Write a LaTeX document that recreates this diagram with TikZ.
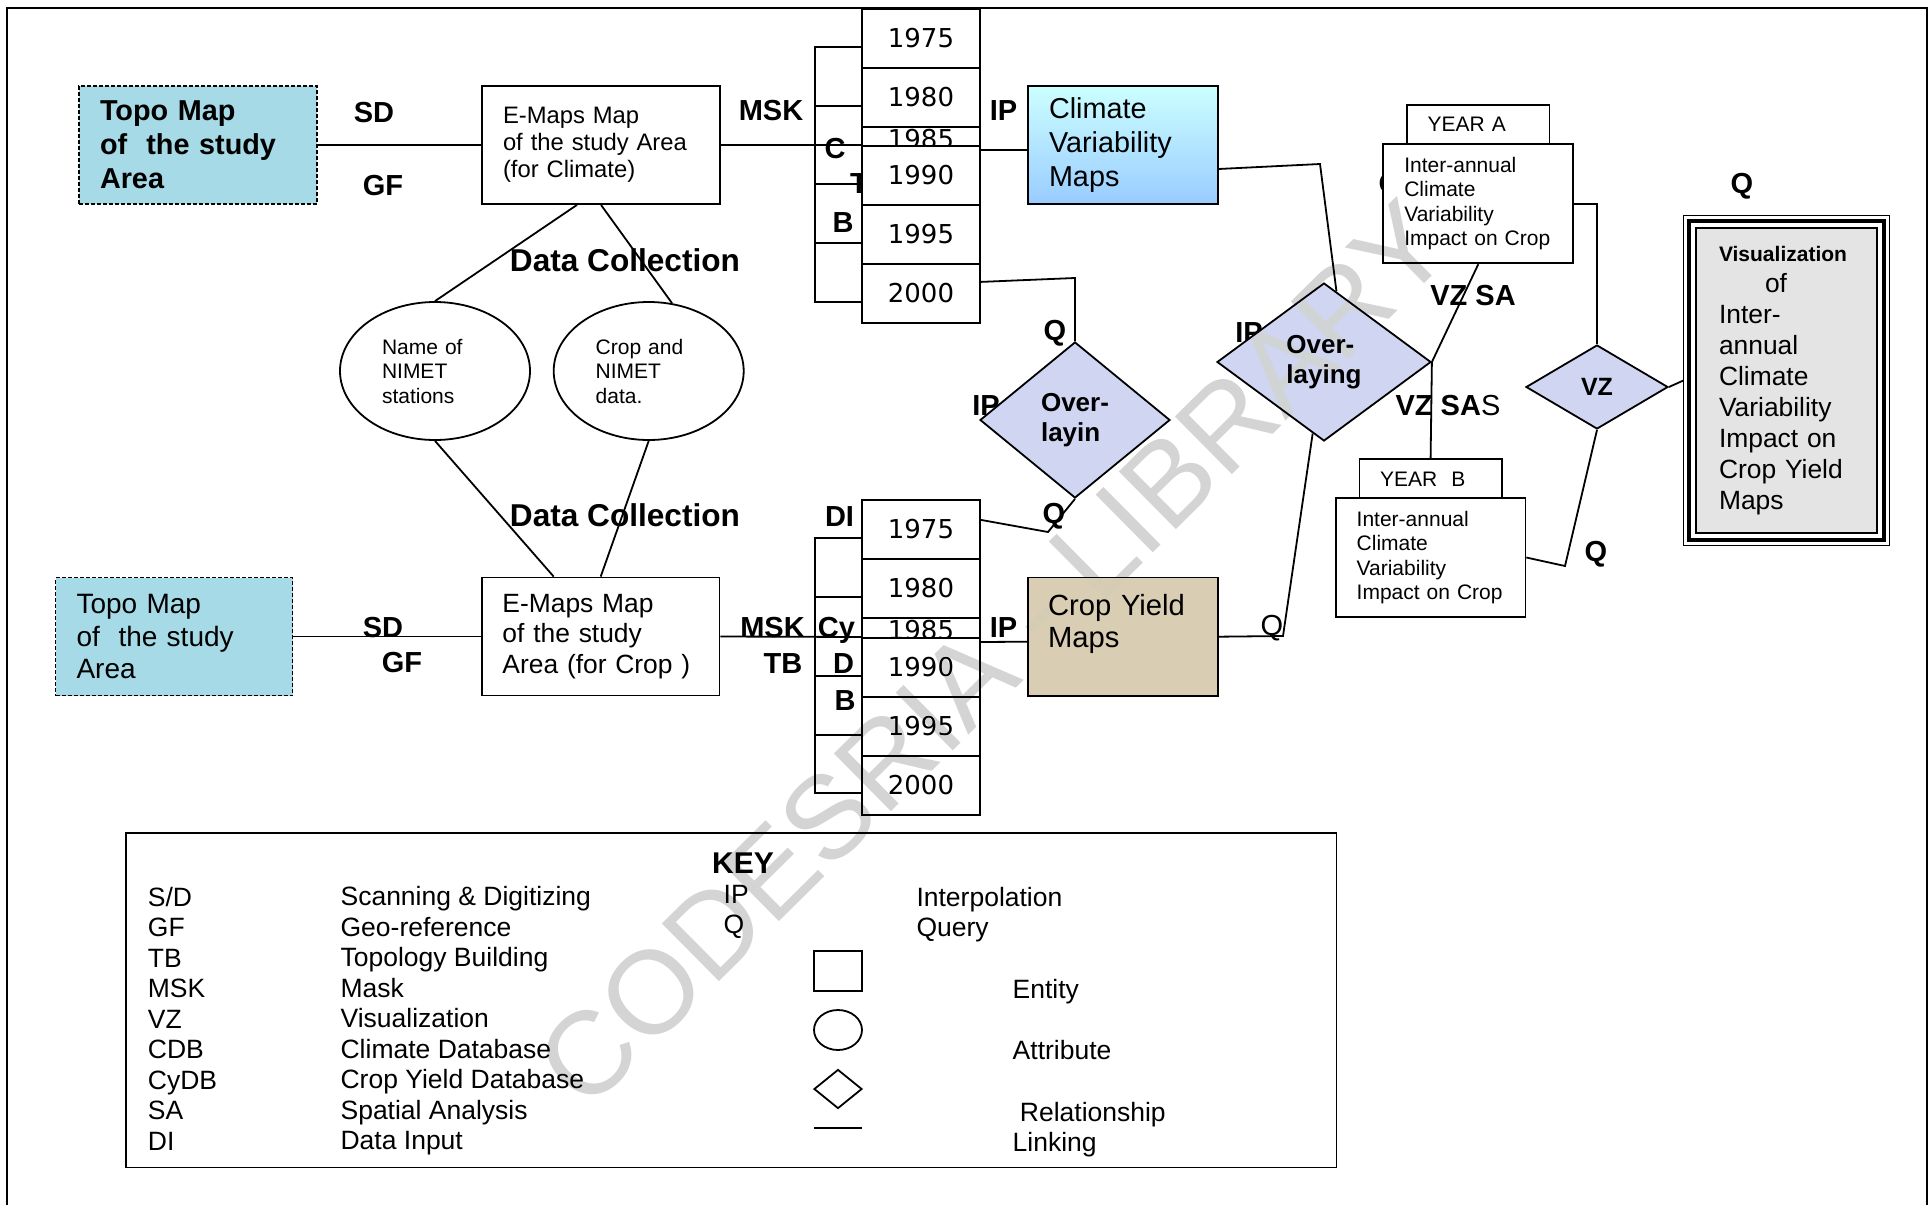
\documentclass[tikz,border=0pt]{standalone}
\usepackage{fontspec}
\setmainfont{Liberation Sans}
\newfontfamily\yearfont{DejaVu Sans}
\usetikzlibrary{shapes.geometric}
\newcommand{\fsz}[2]{\fontsize{#1}{#2}\selectfont}
\definecolor{topocyan}{RGB}{165,218,230}
\definecolor{ovblue}{RGB}{208,214,242}
\definecolor{croptan}{RGB}{217,205,180}
\definecolor{vizgray}{RGB}{228,228,228}
\definecolor{climtop}{RGB}{204,255,255}
\definecolor{climbot}{RGB}{153,204,255}
\definecolor{wmgray}{RGB}{212,212,212}

\begin{document}
\begin{tikzpicture}[x=0.5pt,y=-0.5pt,line width=0.9pt,
 every node/.style={inner sep=0pt},
 lbl/.style={font=\bfseries\fsz{14.5}{17},text height=10.4pt,text depth=0pt},
 dclbl/.style={font=\bfseries\fsz{15.8}{18},text height=11.3pt,text depth=0pt},
 topobox/.style={draw,dash pattern=on 2pt off 1pt,line width=0.6pt,fill=topocyan,
  align=left,minimum height=59pt,inner xsep=10.5pt},
 ebox/.style={draw,fill=white,align=left,minimum height=59pt,inner xsep=10.5pt},
 yearbox/.style={draw,fill=white,anchor=north,minimum width=59pt,minimum height=29.5pt,
  font=\yearfont\fsz{13}{15}},
 attr/.style={draw,ellipse,align=left,minimum width=95pt,minimum height=69pt,
  text width=53pt,font=\fsz{10.5}{12.25}},
 rel/.style={draw,diamond,fill=ovblue,align=left,font=\bfseries\fsz{13}{15}},
 iabox/.style={draw,fill=white,align=left,minimum width=95pt,minimum height=59.5pt,
  text width=74pt,inner xsep=10.5pt,font=\fsz{10.5}{12.25}},
 yrbox/.style={draw,fill=white,align=left,minimum height=19.5pt,text width=50.4pt,
  inner xsep=10.5pt,font=\fsz{10.5}{12}},
 keycol/.style={align=left,anchor=west,font=\fsz{13.25}{15.25}},
 keytxt/.style={anchor=west,font=\fsz{13.25}{15.25},text height=9.5pt,text depth=0pt}]
\useasboundingbox (0,0) rectangle (1929,1205);
% outer frame
\draw[line width=1pt] (7,1205) |- (1927,8) -- (1927,1205);

% labels partly hidden behind boxes
\node[lbl] (tA) at (859,183) {T};
\node[lbl] (qC) at (1390,183) {Q};
\node[lbl] (ipB) at (986,405) {IP};
\node[lbl] (ipC) at (1249,332) {IP};

% climate branch
\node[topobox,text width=98pt,font=\bfseries\fsz{14.4}{17}] (topoA) at (198,145)
 {Topo Map\\of\ \ the study\\Area};
\node[ebox,text width=98pt,font=\fsz{11.9}{13.5}] (emapA) at (601,145)
 {E-Maps Map\\of the study Area\\(for Climate)};
\node[yearbox] (y75a) at (921,8) {1975};
\node[yearbox] (y80a) at (921,67) {1980};
\node[yearbox,minimum height=12pt] (y85a) at (921,126) {1985};
\node[yearbox] (y90a) at (921,145) {1990};
\node[yearbox] (y95a) at (921,204) {1995};
\node[yearbox] (y00a) at (921,263) {2000};
\node[draw,top color=climtop,bottom color=climbot,align=left,minimum width=94.8pt,
 minimum height=59pt,text width=73.8pt,inner xsep=10.5pt,font=\fsz{14.4}{17}]
 (climvar) at (1122.8,145) {Climate\\Variability\\Maps};

% crop branch
\node[topobox,text width=97.5pt,font=\fsz{14}{16.25}] (topoB) at (174,636.5)
 {Topo Map\\of\ \ the study\\Area};
\node[ebox,text width=98.25pt,inner xsep=10.25pt,font=\fsz{13.2}{15.25}] (emapB) at (600.7,636.5)
 {E-Maps Map\\of the study\\Area (for Crop )};
\node[yearbox] (y75b) at (921,499) {1975};
\node[yearbox] (y80b) at (921,558) {1980};
\node[yearbox,minimum height=12pt] (y85b) at (921,617) {1985};
\node[yearbox] (y90b) at (921,637) {1990};
\node[yearbox] (y95b) at (921,696) {1995};
\node[yearbox] (y00b) at (921,755) {2000};
\node[draw,fill=croptan,align=left,minimum width=95pt,minimum height=59.25pt,
 text width=75pt,inner xsep=10pt,font=\fsz{14.6}{16}]
 (crop) at (1123,636.7) {Crop Yield\\Maps\\\mbox{}};

% attributes
\node[attr] (nimst) at (435,371) {Name of\\NIMET\\stations};
\node[attr] (cropdat) at (648.7,371) {Crop and\\NIMET\\data.};

% relationships
\node[rel,minimum width=95pt,minimum height=78pt] (ov1) at (1075,420) {Over-\\layin};
\node[rel,minimum width=107pt,minimum height=79pt] (ov2) at (1324,362) {Over-\\laying};
\node[rel,minimum width=71pt,minimum height=42pt,font=\bfseries\fsz{12.5}{14}] (vz) at (1597,387) {VZ};

% inter-annual boxes
\node[yrbox,minimum width=71.4pt] (yrA) at (1478,124.5) {YEAR A};
\node[iabox] (iaA) at (1478.3,203.8) {Inter-annual\\Climate\\Variability\\Impact on Crop};
\node[yrbox,minimum width=71.2pt,inner xsep=10.3pt] (yrB) at (1430.6,478.8) {YEAR\ \ B};
\node[iabox,minimum width=94.7pt,inner xsep=10.35pt] (iaB) at (1430.7,557.5)
 {Inter-annual\\Climate\\Variability\\Impact on Crop};

% final map
\node[draw,line width=0.6pt,fill=vizgray,align=left,minimum width=90.5pt,minimum height=152.5pt,
 text width=67.5pt,inner xsep=11.5pt,font=\fsz{13.2}{15.5}] (vzbox) at (1786.5,380.5)
 {{\bfseries\fsz{10.5}{15.5}Visualization}\\\hspace*{23pt}of\\Inter-\\annual\\Climate\\Variability\\Impact on\\Crop Yield\\Maps};
\draw[line width=2pt] ([shift={(-3pt,3pt)}]vzbox.north west) rectangle ([shift={(3pt,-3pt)}]vzbox.south east);
\draw[line width=0.6pt] ([shift={(-6pt,6pt)}]vzbox.north west) rectangle ([shift={(6pt,-6pt)}]vzbox.south east);

% operation labels
\node[lbl] (sdA) at (374,112) {SD};
\node[lbl] (gfA) at (383,185) {GF};
\node[lbl] (mskA) at (771,110) {MSK};
\node[lbl] (cA) at (835,148) {C};
\node[lbl] (bA) at (843,222) {B};
\node[lbl] (ipA) at (1003.5,110) {IP};
\node[lbl] (qA) at (1055,330) {Q};
\node[lbl] (qB) at (1054,513) {Q};
\node[lbl] (qD) at (1742,183) {Q};
\node[lbl] (vzsa) at (1473,295) {VZ SA};
\node[lbl] (vzsas) at (1448,405) {VZ SA\mdseries S};
\node[lbl,font=\fsz{14.5}{17}] (qE) at (1272,625) {Q};
\node[lbl] (qF) at (1596,551) {Q};
\node[lbl] (sdB) at (383,627) {SD};
\node[lbl] (gfB) at (402,662) {GF};
\node[lbl] (diB) at (839.5,516) {DI};
\node[lbl] (mskB) at (772.5,627) {MSK};
\node[lbl] (cyB) at (836.5,627) {Cy};
\node[lbl] (tbB) at (783,663) {TB};
\node[lbl] (dB) at (843.5,663) {D};
\node[lbl] (bB) at (845,700) {B};
\node[lbl] (ipD) at (1003.5,627) {IP};
\node[dclbl] (dcA) at (625,260) {Data Collection};
\node[dclbl] (dcB) at (625,515) {Data Collection};

% links
\draw (topoA) -- (emapA);
\draw (emapA.east) -- (y90a.north west);
\draw ([yshift=-2.5pt]y90a.north east) -- ([yshift=-2.5pt]climvar.west);
\draw (y75a.west |- 815,47) -| (815,302) -- (y00a.west |- 815,302);
\draw (815,106) -- (y80a.west |- 815,106) (815,184) -- (y90a.west |- 815,184)
 (815,243) -- (y95a.west |- 815,243);
\draw (topoB) -- (emapB);
\draw (emapB.east) -- (y90b.north west);
\draw ([yshift=-2.5pt]y90b.north east) -- ([yshift=-2.5pt]crop.west);
\draw (y75b.west |- 815,538) -| (815,793) -- (y00b.west |- 815,793);
\draw (815,597) -- (y80b.west |- 815,597) (815,676) -- (y90b.west |- 815,676)
 (815,735) -- (y95b.west |- 815,735);
\draw ([xshift=-12pt]emapA.south) -- (nimst.north);
\draw (emapA.south) -- (cropdat.71);
\draw (nimst.south) -- ([xshift=-23.5pt]emapB.north);
\draw (cropdat.south) -- (emapB.north);
\draw ([yshift=-12pt]climvar.east) -- (1320,164) -- (ov2.80);
\draw ([yshift=5.75pt]y00a.east) -- (1075,278) -- (ov1.north);
\draw (ov1.south) -- (1048,532) -- ([yshift=4.75pt]y75b.east);
\draw (ov2.east) -- (iaA.south);
\draw (ov2.east) -- (yrB.north);
\draw (crop.east) -- (1283,636) -- (ov2.261);
\draw (iaA.east) -| (vz.north);
\draw (vz.east) -- ([xshift=-6pt]vzbox.west);
\draw (vz.south) -- (1565,566) -- (iaB.east);

% key
\node[draw,minimum width=605.2pt,minimum height=167.25pt] (keybox) at (731.2,1000.25) {};
\node[font=\bfseries\fsz{15}{17},text height=10.7pt,text depth=0pt] (keyttl) at (743,863) {KEY};
\node[keycol] (keyabbr) at (147,1018.7) {S/D\\GF\\TB\\MSK\\VZ\\CDB\\CyDB\\SA\\DI};
\node[keycol] (keydesc) at (339.7,1021) {Scanning \& Digitizing\\Geo-reference\\Topology Building\\Mask\\Visualization\\Climate Database\\Crop Yield Database\\Spatial Analysis\\Data Input};
\node[keycol] (keyipq) at (722.8,912) {IP\\Q};
\node[keycol] (keyipqd) at (915.6,914.7) {Interpolation\\Query};
\node[draw,minimum width=24pt,minimum height=20pt] (keyent) at (838,971) {};
\node[draw,ellipse,minimum width=24pt,minimum height=20pt] (keyatt) at (838,1030) {};
\node[draw,diamond,minimum width=24pt,minimum height=19.5pt] (keyrel) at (838,1089) {};
\coordinate (lnkA) at (814,1128);
\coordinate (lnkB) at (862,1128);
\draw (lnkA) -- (lnkB);
\node[keytxt] (keyentt) at (1011.8,989.3) {Entity};
\node[keytxt] (keyattt) at (1011.8,1050) {Attribute};
\node[keytxt] (keyrelt) at (1019,1111.7) {Relationship};
\node[keytxt] (keylnkt) at (1011.8,1141.7) {Linking};

% watermark
\begin{scope}[blend mode=darken]
\node[rotate=44.7,text=wmgray,font=\fsz{59}{60}] (wmark) at (993,654) {CODESRIA - LIBRARY};
\end{scope}
\end{tikzpicture}
\end{document}
